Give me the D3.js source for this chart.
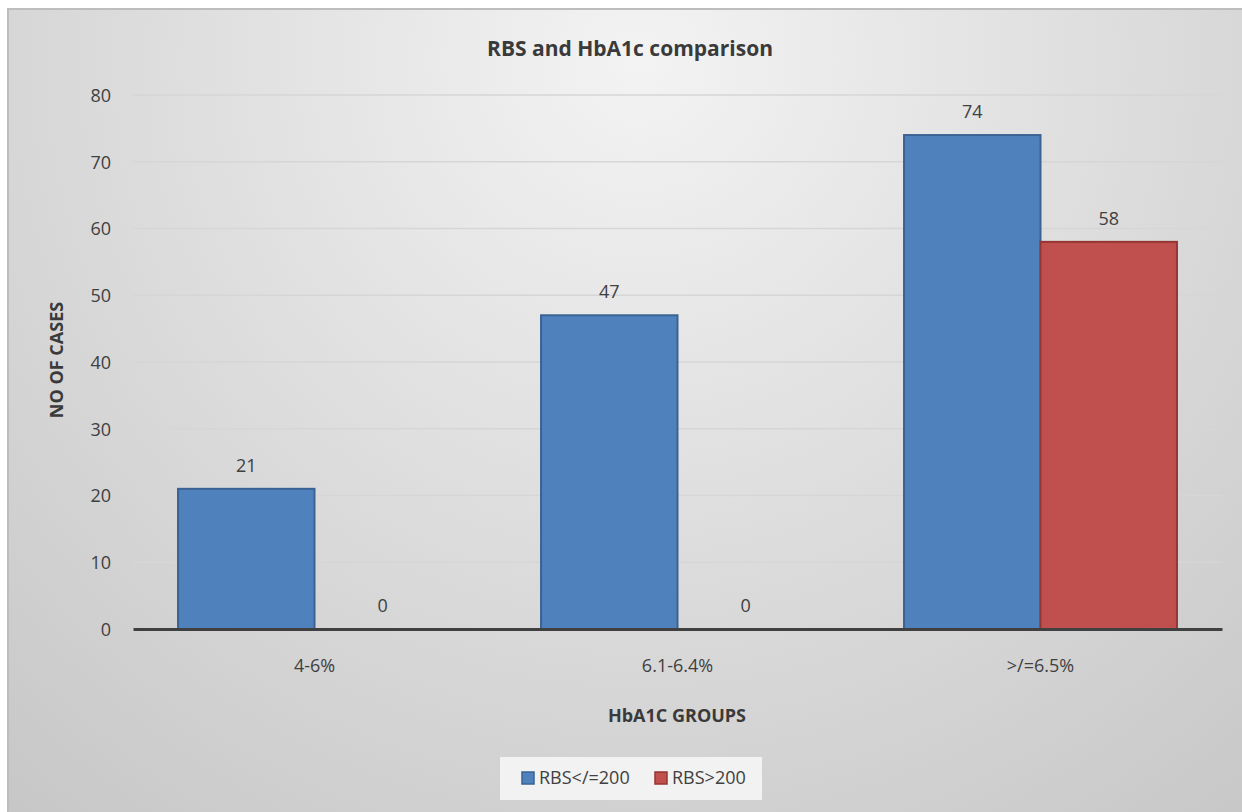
<!DOCTYPE html>
<html><head><meta charset="utf-8">
<script src="https://cdn.jsdelivr.net/npm/d3@7"></script>
<style>body{margin:0;background:#fff;overflow:hidden}text{font-family:"Open Sans","Liberation Sans",sans-serif}</style>
</head><body><svg id="c" width="1242" height="812"></svg>
<script>
const categories = ["4-6%", "6.1-6.4%", ">/=6.5%"];
const seriesNames = ["RBS</=200", "RBS>200"];
const rbsLow = [21, 47, 74];
const rbsHigh = [0, 0, 58];
const yTicks = [0, 10, 20, 30, 40, 50, 60, 70, 80];
const colors = ["#4f81bd", "#c0504d"];
const strokes = ["#3a6394", "#943634"];

const svg = d3.select("#c");
const defs = svg.append("defs");
const grad = defs.append("radialGradient").attr("id","bg")
  .attr("gradientUnits","userSpaceOnUse").attr("cx",640).attr("cy",60).attr("r",1000);
grad.append("stop").attr("offset","0").attr("stop-color","#f3f3f3");
grad.append("stop").attr("offset","0.55").attr("stop-color","#dadada");
grad.append("stop").attr("offset","1").attr("stop-color","#c6c6c6");
svg.append("rect").attr("x",8).attr("y",9).attr("width",1240).attr("height",810)
  .attr("fill","url(#bg)").attr("stroke","#bdbdbd").attr("stroke-width",2);

const m = {left:133, right:1222, top:95, bottom:629};
const x = d3.scaleBand().domain(categories).range([m.left, m.right]).paddingInner(0).paddingOuter(0);
const x1 = d3.scaleBand().domain(seriesNames).range([0, x.bandwidth()]).paddingInner(0).paddingOuter(0.33);
const y = d3.scaleLinear().domain([0, 80]).range([m.bottom, m.top]);

// gridlines
svg.append("g").selectAll("line").data(yTicks.filter(d=>d>0)).join("line")
  .attr("x1",m.left).attr("x2",m.right).attr("y1",d=>y(d)).attr("y2",d=>y(d))
  .attr("stroke","#d6d6d6").attr("stroke-width",1.3);

// y axis labels
const yAxis = d3.axisLeft(y).tickValues(yTicks).tickSize(0).tickPadding(0);
const gy = svg.append("g").attr("transform",`translate(${m.left-22},0)`).call(yAxis);
gy.select(".domain").remove();
gy.selectAll("text").attr("font-size",18).attr("fill","#404040").attr("dy","0.35em");

const series = [rbsLow, rbsHigh];
series.forEach((vals, si) => {
  const g = svg.append("g");
  g.selectAll("rect").data(categories.map((c,i)=>({c, v: vals[i]}))).join("rect")
    .filter(d=>d.v>0)
    .attr("x", d=>x(d.c)+x1(seriesNames[si]))
    .attr("y", d=>y(d.v))
    .attr("width", x1.bandwidth())
    .attr("height", d=>y(0)-y(d.v))
    .attr("fill", colors[si]).attr("stroke", strokes[si]).attr("stroke-width",2);
  g.selectAll("text").data(categories.map((c,i)=>({c, v: vals[i]}))).join("text")
    .attr("x", d=>x(d.c)+x1(seriesNames[si])+x1.bandwidth()/2)
    .attr("y", d=>y(d.v)-17)
    .attr("text-anchor","middle").attr("font-size",18).attr("fill","#404040")
    .text(d=>d.v);
});

// x axis
const xAxis = d3.axisBottom(x).tickSize(0).tickPadding(30);
const gx = svg.append("g").attr("transform",`translate(0,${m.bottom})`).call(xAxis);
gx.select(".domain").attr("stroke","#404040").attr("stroke-width",3);
gx.selectAll("text").attr("font-size",18).attr("fill","#404040");

// titles
svg.append("text").attr("x",630).attr("y",56).attr("text-anchor","middle")
  .attr("font-size",21).attr("font-weight","bold").attr("fill","#3a3a3a").text("RBS and HbA1c comparison");
svg.append("text").attr("transform","translate(63,360) rotate(-90)").attr("text-anchor","middle")
  .attr("font-size",18).attr("font-weight","bold").attr("fill","#3a3a3a").text("NO OF CASES");
svg.append("text").attr("x",677).attr("y",722).attr("text-anchor","middle")
  .attr("font-size",18).attr("font-weight","bold").attr("fill","#3a3a3a").text("HbA1C GROUPS");

// legend
const lg = svg.append("g");
lg.append("rect").attr("x",500).attr("y",757).attr("width",262).attr("height",43).attr("fill","#f2f2f2");
const legX = [522, 655];
seriesNames.forEach((s,i)=>{
  lg.append("rect").attr("x",legX[i]).attr("y",772).attr("width",12).attr("height",12)
    .attr("fill",colors[i]).attr("stroke",strokes[i]).attr("stroke-width",1.5);
  lg.append("text").attr("x",legX[i]+17).attr("y",778).attr("dy","0.35em")
    .attr("font-size",18).attr("fill","#404040").text(s);
});
</script></body></html>
